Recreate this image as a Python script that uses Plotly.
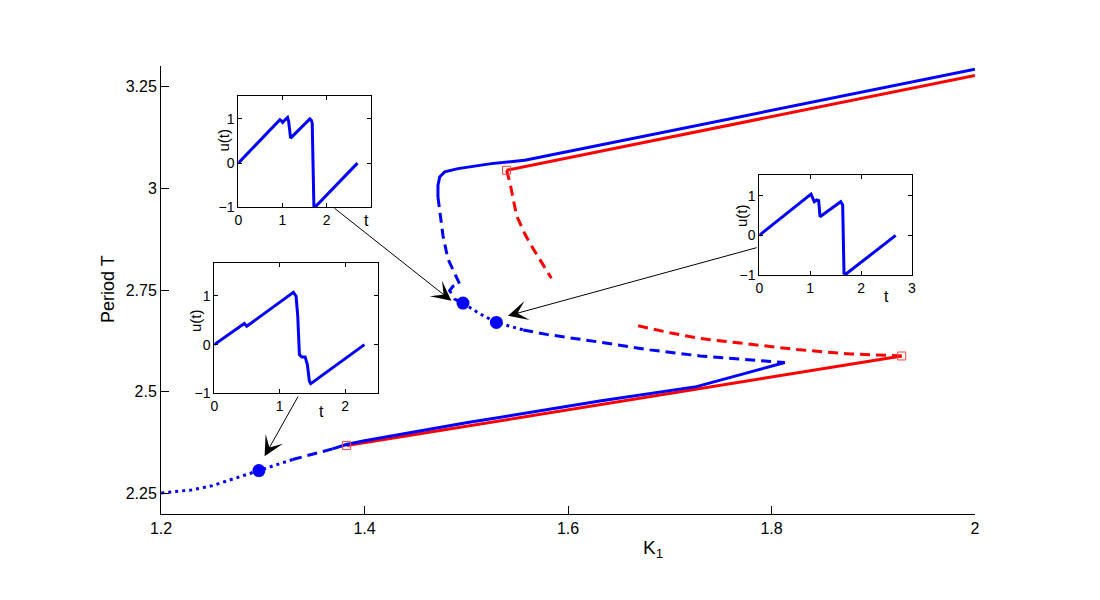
import plotly.graph_objects as go

# ---------------- main diagram data: K1 vs period T ----------------
blue_stable_upper_K = [2.0, 1.8, 1.6115, 1.5575, 1.5247, 1.4919, 1.4788, 1.4739, 1.4722, 1.4722]
blue_stable_upper_T = [3.292, 3.191, 3.0958, 3.0685, 3.0603, 3.048, 3.040, 3.0276, 3.0069, 2.9783]
blue_unstable_upper_K = [1.4722, 1.4739, 1.4771, 1.482, 1.4886, 1.4935, 1.4869, 1.4837, 1.4886, 1.4968]
blue_unstable_upper_T = [2.9783, 2.9495, 2.8837, 2.8264, 2.7894, 2.7648, 2.7591, 2.7483, 2.7278, 2.718]
blue_dotted_mid_K = [1.4968, 1.513, 1.5296, 1.545, 1.556]
blue_dotted_mid_T = [2.718, 2.692, 2.6704, 2.659, 2.652]
blue_unstable_mid_K = [1.556, 1.5788, 1.6312, 1.6804, 1.7296, 1.7787, 1.8131]
blue_unstable_mid_T = [2.652, 2.641, 2.622, 2.603, 2.5882, 2.5783, 2.5719]
blue_stable_lower_K = [1.8131, 1.7951, 1.7623, 1.7394, 1.7263, 1.6312, 1.5, 1.4, 1.3821, 1.3686]
blue_stable_lower_T = [2.5719, 2.5596, 2.5389, 2.5227, 2.5128, 2.4773, 2.424, 2.380, 2.3707, 2.360]
blue_unstable_lower_K = [1.3686, 1.349, 1.3293]
blue_unstable_lower_T = [2.360, 2.346, 2.3337]
blue_dotted_lower_K = [1.3293, 1.31, 1.2962, 1.27, 1.2506, 1.23, 1.2]
blue_dotted_lower_T = [2.3337, 2.318, 2.3067, 2.285, 2.2697, 2.259, 2.2517]

red_stable_upper_K = [1.5396, 2.0]
red_stable_upper_T = [3.0439, 3.277]
red_unstable_upper_K = [1.5396, 1.5428, 1.5494, 1.5575, 1.5658, 1.5837]
red_unstable_upper_T = [3.0439, 3.0153, 2.9332, 2.888, 2.8512, 2.7789]
red_unstable_lower_K = [1.6689, 1.70, 1.7296, 1.7787, 1.8279, 1.8775, 1.928]
red_unstable_lower_T = [2.662, 2.645, 2.631, 2.617, 2.603, 2.593, 2.588]
red_stable_lower_K = [1.3824, 1.928]
red_stable_lower_T = [2.368, 2.588]

bif_K = [1.5396, 1.928, 1.3824]
bif_T = [3.0439, 2.588, 2.368]
sample_K = [1.2962, 1.4968, 1.5296]
sample_T = [2.3067, 2.718, 2.6704]

x_ticks = [1.2, 1.4, 1.6, 1.8, 2.0]
x_ticktext = ["1.2", "1.4", "1.6", "1.8", "2"]
y_ticks = [2.25, 2.5, 2.75, 3.0, 3.25]
y_ticktext = ["2.25", "2.5", "2.75", "3", "3.25"]

# ---------------- inset time series u(t) ----------------
inset1_t = [0, 0.943, 0.975, 1.004, 1.06, 1.117, 1.14, 1.185, 1.622, 1.655, 1.675, 1.69, 1.713, 1.735, 2.70]
inset1_u = [0, 0.981, 0.96, 0.92, 0.98, 1.033, 0.95, 0.566, 1.003, 0.97, 0.906, 0.2, -0.983, -1.0, 0]
inset2_t = [0, 0.459, 0.496, 1.21, 1.251, 1.277, 1.302, 1.338, 1.389, 1.424, 1.455, 1.476, 2.297]
inset2_u = [0, 0.432, 0.376, 1.075, 0.993, 0.582, -0.206, -0.253, -0.253, -0.411, -0.754, -0.802, 0]
inset3_t = [0, 1.016, 1.081, 1.127, 1.166, 1.193, 1.599, 1.638, 1.664, 1.697, 2.68]
inset3_u = [0, 1.04, 0.846, 0.889, 0.872, 0.469, 0.846, 0.763, -0.957, -0.982, 0]

BLUE = "#0000ff"
RED = "#ff0000"
DASH = "10px,6px"
DOT = "3px,4px"
FONT = "Liberation Sans, Arial, Helvetica, sans-serif"

# figure geometry (pixels)
W, H = 1100, 600
ML, MR, MT, MB = 161, 125, 66, 86
PW, PH = W - ML - MR, H - MT - MB


def px(xp):
    return (xp - ML) / PW


def py(yp):
    return (H - MB - yp) / PH


fig = go.Figure()


def line(K, T, color, dash, xa="x", ya="y", width=3):
    fig.add_trace(go.Scatter(x=K, y=T, mode="lines", xaxis=xa, yaxis=ya,
                             line=dict(color=color, width=width, dash=dash),
                             showlegend=False, hoverinfo="skip"))


line(red_stable_upper_K, red_stable_upper_T, RED, "solid")
line(red_unstable_upper_K, red_unstable_upper_T, RED, DASH)
line(red_unstable_lower_K, red_unstable_lower_T, RED, DASH)
line(red_stable_lower_K, red_stable_lower_T, RED, "solid")

line(blue_stable_upper_K, blue_stable_upper_T, BLUE, "solid")
line(blue_unstable_upper_K, blue_unstable_upper_T, BLUE, DASH)
line(blue_dotted_mid_K, blue_dotted_mid_T, BLUE, DOT)
line(blue_unstable_mid_K, blue_unstable_mid_T, BLUE, DASH)
line(blue_stable_lower_K, blue_stable_lower_T, BLUE, "solid")
line(blue_unstable_lower_K, blue_unstable_lower_T, BLUE, DASH)
line(blue_dotted_lower_K, blue_dotted_lower_T, BLUE, DOT)

fig.add_trace(go.Scatter(x=bif_K, y=bif_T, mode="markers",
                         marker=dict(symbol="square-open", size=8, color="#ff4040",
                                     line=dict(width=1, color="#ff4040")),
                         showlegend=False, hoverinfo="skip"))
fig.add_trace(go.Scatter(x=sample_K, y=sample_T, mode="markers",
                         marker=dict(symbol="circle", size=13, color=BLUE,
                                     line=dict(width=0)),
                         showlegend=False, hoverinfo="skip"))

# insets
line(inset1_t, inset1_u, BLUE, "solid", "x2", "y2")
line(inset2_t, inset2_u, BLUE, "solid", "x3", "y3")
line(inset3_t, inset3_u, BLUE, "solid", "x4", "y4")

axis_common = dict(showgrid=False, zeroline=False, showline=True, linecolor="black",
                   linewidth=1, ticks="inside", tickcolor="black", color="black")

inset_boxes = {  # (left, right, top, bottom) in pixels
    2: (238.3, 370.7, 96, 207.3),
    3: (214.3, 377.7, 263.3, 393.3),
    4: (759.3, 912, 175, 275),
}
inset_xr = {2: [0, 3], 3: [0, 2.5], 4: [0, 3]}
inset_yr = {2: [-1, 1.52], 3: [-1, 1.67], 4: [-1, 1.52]}
inset_xt = {2: [0, 1, 2], 3: [0, 1, 2], 4: [0, 1, 2, 3]}
# label positions (pixels): "u(t)" and "t"
inset_ylab = {2: (223, 140.5), 3: (195, 321), 4: (741, 216)}
inset_xlab = {2: (366, 220), 3: (321.7, 411.7), 4: (886, 296.7)}

layout = dict(
    width=W, height=H, autosize=False,
    margin=dict(l=ML, r=MR, t=MT, b=MB),
    paper_bgcolor="white", plot_bgcolor="rgba(0,0,0,0)",
    font=dict(family=FONT, color="black", size=16),
    xaxis=dict(range=[1.2, 2.0], tickvals=x_ticks, ticktext=x_ticktext, ticklen=8,
               tickfont=dict(size=16), **axis_common),
    yaxis=dict(range=[2.2, 3.3], tickvals=y_ticks, ticktext=y_ticktext, ticklen=8,
               tickfont=dict(size=16), **axis_common),
)
for k, (l, r, t, b) in inset_boxes.items():
    layout[f"xaxis{k}"] = dict(domain=[px(l), px(r)], anchor=f"y{k}", range=inset_xr[k],
                               tickvals=inset_xt[k], ticklen=4, mirror="ticks",
                               tickfont=dict(size=14), **axis_common)
    layout[f"yaxis{k}"] = dict(domain=[py(b), py(t)], anchor=f"x{k}", range=inset_yr[k],
                               tickvals=[-1, 0, 1], ticklen=4, mirror="ticks",
                               tickfont=dict(size=14), **axis_common)
fig.update_layout(**layout)

# white backgrounds for insets
for k, (l, r, t, b) in inset_boxes.items():
    fig.add_shape(type="rect", xref="paper", yref="paper", x0=px(l), x1=px(r),
                  y0=py(b), y1=py(t), fillcolor="white", line=dict(width=0), layer="below")

ann = []
# axis labels
ann.append(dict(text="Period T", xref="paper", yref="paper", x=px(108), y=py(289),
                textangle=-90, showarrow=False, font=dict(size=18), xanchor="center",
                yanchor="middle"))
ann.append(dict(text="K<sub>1</sub>", xref="paper", yref="paper", x=px(653), y=py(549),
                showarrow=False, font=dict(size=19), xanchor="center", yanchor="middle"))
# inset axis labels
for k in inset_boxes:
    xp_, yp_ = inset_xlab[k]
    ann.append(dict(text="t", xref="paper", yref="paper", x=px(xp_), y=py(yp_),
                    showarrow=False, font=dict(size=16), xanchor="center", yanchor="middle"))
    xp_, yp_ = inset_ylab[k]
    ann.append(dict(text="u(t)", xref="paper", yref="paper", x=px(xp_), y=py(yp_),
                    textangle=-90, showarrow=False, font=dict(size=15),
                    xanchor="center", yanchor="middle"))
# arrows from insets to sample points
arrows = [((1.369, 2.9537), (1.4854, 2.7236)),
          ((1.7869, 2.855), (1.541, 2.6867)),
          ((1.3355, 2.492), (1.3018, 2.3419))]
for (tail, head) in arrows:
    ann.append(dict(text="", x=head[0], y=head[1], ax=tail[0], ay=tail[1],
                    xref="x", yref="y", axref="x", ayref="y", showarrow=True,
                    arrowhead=3, arrowsize=3.3, arrowwidth=1, arrowcolor="black"))
fig.update_layout(annotations=ann)

fig.write_html("out.html", config={"displayModeBar": False},
               post_script="document.body.style.margin='0px';")
